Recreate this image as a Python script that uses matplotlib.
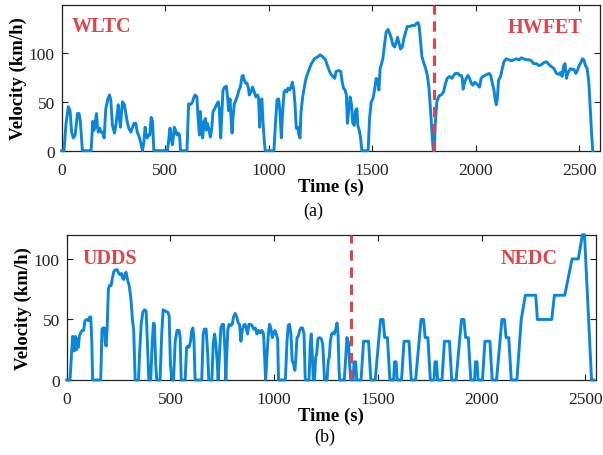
import matplotlib
matplotlib.use("Agg")
import matplotlib.pyplot as plt
import numpy as np

# ---- data: (a) WLTC + HWFET ----
t_a = [0, 11, 21, 32, 40, 48, 56, 65, 76, 84, 90, 100, 142, 150, 156, 161, 168, 173, 177, 184, 190, 197,
       205, 213, 223, 231, 237, 245, 255, 263, 273, 279, 284, 289, 294, 303, 310, 316, 324, 334, 342, 350,
       358, 365, 371, 376, 384, 390, 397, 403, 408, 413, 419, 426, 432, 439, 445, 511, 516, 523, 529, 535,
       544, 550, 556, 563, 569, 574, 605, 613, 619, 626, 632, 639, 645, 653, 658, 665, 669, 674, 681, 687,
       694, 698, 703, 710, 718, 724, 731, 739, 748, 756, 761, 768, 773, 779, 787, 795, 802, 806, 813, 818,
       823, 827, 834, 842, 850, 856, 863, 871, 876, 882, 889, 895, 902, 906,
       914, 922, 930, 938, 946, 951, 956, 961, 967, 972, 979, 983, 1025, 1032, 1040, 1048, 1054, 1061, 1067,
       1074, 1080, 1087, 1093, 1101, 1108, 1114, 1121, 1127, 1133, 1140, 1146, 1151, 1156, 1164, 1172, 1180,
       1193, 1206, 1221, 1237, 1248, 1261, 1274, 1285, 1298, 1309, 1319, 1325, 1338, 1348, 1355, 1361, 1369,
       1375, 1380, 1387, 1393, 1400, 1406, 1413, 1419, 1426, 1430, 1437, 1443, 1450, 1480, 1487, 1495, 1503,
       1511, 1519, 1526, 1532, 1538, 1545, 1551, 1559, 1567, 1576, 1584, 1592, 1600, 1608, 1616, 1622, 1629,
       1637, 1645, 1653, 1661, 1669, 1680, 1692, 1705, 1713, 1721, 1726, 1732, 1740, 1750, 1758, 1766, 1774,
       1782, 1790, 1795, 1800,
       1804, 1812, 1822, 1833, 1844, 1854, 1862, 1873, 1885, 1893, 1902, 1914, 1922, 1930, 1935, 1939, 1946,
       1954, 1962, 1970, 1978, 1986, 1994, 2002, 2010, 2018, 2026, 2035, 2044, 2054, 2064, 2072, 2080, 2088,
       2094, 2099, 2104, 2110, 2120, 2128, 2136, 2147, 2159, 2172, 2185, 2196, 2209, 2220, 2231, 2244, 2257,
       2268, 2280, 2293, 2306, 2317, 2328, 2341, 2354, 2365, 2378, 2390, 2401, 2409, 2417, 2425, 2431, 2438,
       2444, 2451, 2459, 2467, 2475, 2483, 2491, 2499, 2509, 2515, 2522, 2530, 2538, 2546, 2552, 2559, 2565]
v_a = [0, 0, 28, 45, 41, 19, 13, 16, 38, 38, 30, 0, 0, 30, 21, 28, 38, 24, 19, 23, 19, 19,
       13, 43, 53, 57, 52, 26, 18, 28, 47, 33, 24, 40, 50, 47, 38, 30, 23, 19, 24, 28,
       28, 19, 16, 13, 6, 0, 9, 24, 16, 13, 16, 16, 34, 30, 0, 0, 9, 23, 13, 6,
       24, 21, 16, 18, 16, 0, 0, 48, 47, 48, 50, 55, 57, 55, 36, 16, 40, 23, 13, 30,
       33, 21, 28, 23, 14, 21, 40, 43, 47, 50, 43, 13, 36, 62, 65, 66, 53, 41, 53, 33,
       18, 33, 48, 52, 57, 62, 65, 76, 77, 72, 69, 69, 64, 57,
       60, 65, 60, 55, 57, 53, 24, 50, 53, 30, 9, 0, 0, 26, 52, 53, 40, 13, 40,
       60, 62, 60, 64, 62, 65, 70, 62, 47, 23, 24, 16, 13, 40, 55, 65, 74,
       82, 89, 94, 96, 98, 96, 93, 86, 79, 76, 74, 81, 82, 81, 70, 64, 62,
       57, 28, 43, 55, 47, 28, 26, 41, 43, 26, 21, 14, 0, 0, 33, 50, 53,
       62, 74, 72, 62, 84, 89, 94, 108, 121, 124, 120, 115, 108, 106, 111, 116, 110,
       104, 106, 115, 121, 127, 127, 128, 128, 130, 131, 128, 115, 96, 89, 84, 77, 64,
       40, 13, 0, 0,
       26, 50, 56, 57, 60, 69, 74, 76, 74, 77, 79, 79, 77, 77, 74, 63, 70,
       74, 77, 74, 69, 67, 70, 69, 67, 65, 74, 76, 77, 78, 79, 77, 69, 62,
       52, 47, 53, 72, 76, 84, 91, 94, 93, 92, 93, 94, 93, 95, 94, 93, 93,
       92, 89, 89, 87, 88, 90, 91, 88, 86, 84, 79, 78, 80, 76, 87, 89, 74,
       79, 82, 84, 83, 83, 79, 82, 87, 91, 94, 93, 87, 84, 70, 47, 19, 0]

# ---- data: (b) UDDS + NEDC ----
t_b = [0, 16, 24, 29, 34, 37, 42, 47, 51, 56, 61, 67, 75, 82, 88, 96, 104, 111, 116, 121, 125, 164, 170,
       175, 182, 185, 190, 195, 201, 206, 214, 220, 228, 236, 244, 251, 257, 264, 269, 275, 282, 286, 293,
       301, 309, 317, 323, 330, 346, 352, 359, 367, 375, 383, 389, 396, 405, 412, 418, 423, 429, 434, 450,
       458, 465, 474, 487, 494, 500, 507, 515, 523, 532, 542, 547, 552, 571, 578, 584, 590, 597, 603, 608,
       613, 619, 651, 658, 664, 672, 679, 685, 700, 706, 713, 719, 726, 730, 737, 743, 750, 756, 763, 767,
       771, 777, 783, 791, 798, 804, 812, 820, 827, 833, 840, 846, 853, 859, 865, 872, 878,
       885, 893, 901, 909, 917, 925, 933, 941, 949, 954, 959, 965, 972, 978, 984, 991, 997, 1004, 1010, 1017,
       1021, 1054, 1062, 1068, 1074, 1081, 1087, 1094, 1100, 1105, 1110, 1116, 1123, 1129, 1137, 1144, 1150,
       1168, 1174, 1179, 1184, 1189, 1195, 1200, 1205, 1211, 1219, 1227, 1234, 1239, 1243, 1255, 1261, 1266,
       1271, 1277, 1284, 1290, 1297, 1303, 1308, 1313, 1316, 1338, 1345, 1351, 1358, 1364, 1369,
       1381, 1385, 1393, 1398, 1419, 1431, 1455, 1466, 1487, 1513, 1525, 1533, 1546, 1558, 1565,
       1576, 1580, 1588, 1593, 1614, 1626, 1650, 1661, 1682, 1708, 1720, 1728, 1741, 1753, 1760,
       1771, 1775, 1783, 1788, 1809, 1821, 1845, 1856, 1877, 1903, 1915, 1923, 1936, 1948, 1955,
       1966, 1970, 1978, 1983, 2004, 2016, 2040, 2051, 2072, 2098, 2110, 2118, 2131, 2143, 2150,
       2170, 2191, 2211, 2261, 2269, 2338, 2351, 2401, 2436, 2466, 2486, 2496, 2530, 2540]
v_b = [0, 0, 24, 36, 32, 24, 36, 25, 34, 27, 36, 39, 41, 41, 49, 50, 49, 52, 52, 32, 0, 0, 42,
       43, 43, 32, 28, 43, 75, 78, 78, 84, 90, 91, 91, 88, 87, 88, 84, 83, 88, 89, 83,
       78, 68, 50, 41, 0, 0, 24, 46, 56, 58, 57, 30, 0, 0, 30, 47, 46, 13, 0, 0,
       38, 58, 57, 56, 53, 13, 0, 0, 32, 41, 41, 35, 0, 0, 27, 28, 27, 32, 41, 43,
       35, 0, 0, 38, 42, 42, 24, 0, 0, 30, 38, 30, 13, 0, 24, 43, 46, 46, 24, 0,
       19, 42, 46, 45, 46, 52, 55, 52, 47, 46, 32, 41, 45, 46, 43, 38, 46,
       46, 45, 42, 43, 38, 41, 39, 41, 38, 19, 0, 19, 38, 46, 43, 35, 38, 41, 38, 34,
       0, 0, 32, 45, 46, 38, 16, 13, 8, 19, 35, 36, 41, 43, 43, 38, 0,
       0, 30, 38, 19, 0, 0, 19, 21, 34, 35, 34, 30, 13, 0, 0, 16, 19,
       32, 38, 39, 38, 42, 47, 38, 8, 0, 0, 19, 35, 31, 13, 0,
       0, 15, 15, 0, 0, 32, 32, 0, 0, 50, 50, 35, 35, 0, 0,
       0, 15, 15, 0, 0, 32, 32, 0, 0, 50, 50, 35, 35, 0, 0,
       0, 15, 15, 0, 0, 32, 32, 0, 0, 50, 50, 35, 35, 0, 0,
       0, 15, 15, 0, 0, 32, 32, 0, 0, 50, 50, 35, 35, 0, 0,
       0, 50, 70, 70, 50, 50, 70, 70, 100, 100, 120, 120, 0, 0]

split_a = 1800
split_b = 1370
yticks = [0, 50, 100]
xticks = [0, 500, 1000, 1500, 2000, 2500]

BLUE = "#0a86da"
RED = "#df4448"

plt.rcParams['font.family'] = ['Liberation Serif', 'DejaVu Serif']

fig = plt.figure(figsize=(6.03, 4.56), dpi=100)
W, H = 603, 456

def mkax(x0, x1, y0, y1):
    return fig.add_axes([x0 / W, 1 - y1 / H, (x1 - x0) / W, (y1 - y0) / H])

axa = mkax(61.7, 600, 6, 151.7)
axb = mkax(66.7, 595.7, 235.7, 381)

for ax, t, v, sp, xmax, ymax in [(axa, t_a, v_a, split_a, 2600, 149),
                                  (axb, t_b, v_b, split_b, 2550, 120)]:
    ax.plot(t, v, color=BLUE, lw=2.1, solid_joinstyle='round', zorder=3, clip_on=False)
    ax.axvline(sp, color=RED, lw=2.2, ls=(0, (3.4, 2.2)), zorder=4)
    ax.set_xlim(0, xmax)
    ax.set_ylim(0, ymax)
    ax.set_xticks(xticks)
    ax.set_yticks(yticks)
    ax.tick_params(direction='in', length=4, width=0.8, top=True, right=True,
                   labelsize=12.5, pad=5, colors='#222222')
    ax.tick_params(axis='x', pad=8)
    for s in ax.spines.values():
        s.set_linewidth(0.9)
        s.set_color('#222222')
    ax.set_ylabel('Velocity (km/h)', fontsize=13.5, fontweight='bold', labelpad=1)
    ax.set_xlabel('Time (s)', fontsize=13.5, fontweight='bold', labelpad=0)

kw = dict(fontsize=14.5, fontweight='bold', color=RED)
axa.text(0.0185, 0.857, 'WLTC', transform=axa.transAxes, ha='left', va='center', **kw)
axa.text(0.968, 0.850, 'HWFET', transform=axa.transAxes, ha='right', va='center', **kw)
axb.text(0.0295, 0.843, 'UDDS', transform=axb.transAxes, ha='left', va='center', **kw)
axb.text(0.9275, 0.838, 'NEDC', transform=axb.transAxes, ha='right', va='center', **kw)

fig.text(313 / W, 1 - 211 / H, '(a)', ha='center', va='center', fontsize=13)
fig.text(325 / W, 1 - 437 / H, '(b)', ha='center', va='center', fontsize=13)

fig.savefig('out.png', dpi=100)
